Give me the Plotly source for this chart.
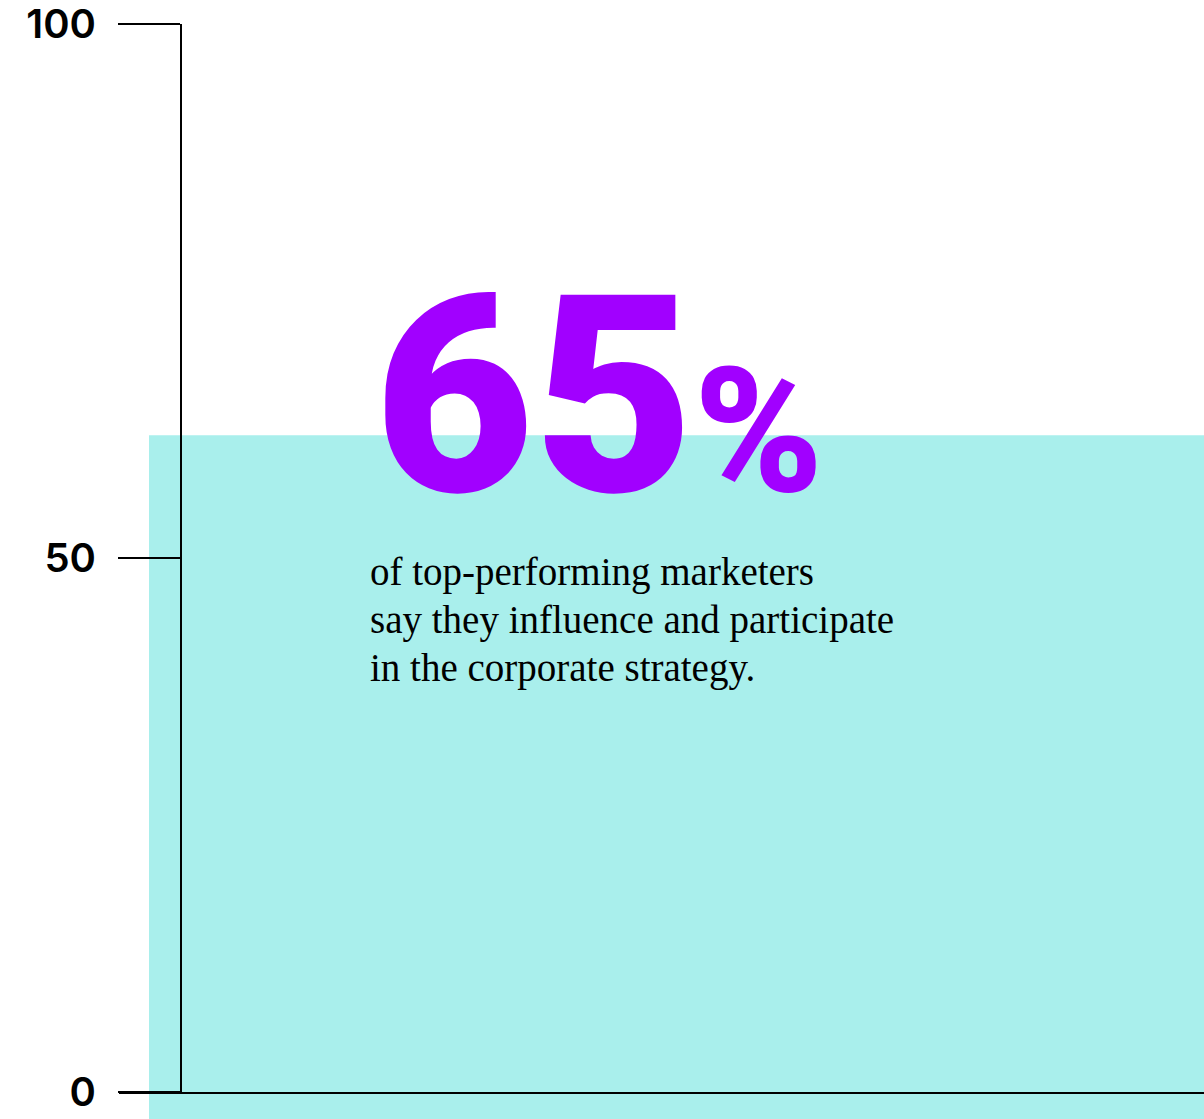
import plotly.graph_objects as go

# ---- data ----
categories = ["Top-performing marketers"]
bar_top = [61.5]          # bar height as drawn
bar_base = [-3]           # bar continues below the zero line
tick_vals = [0, 50, 100]
tick_text = ["0", "50", "100"]
headline_value = "65"
headline_unit = "%"
body_lines = ["of top-performing marketers",
              "say they influence and participate",
              "in the corporate strategy."]

W, H = 1204, 1119
PURPLE = "#a100ff"
CYAN = "#a9efec"

fig = go.Figure()

# bar on full-page subplot
fig.add_trace(go.Bar(
    x=categories, y=[t - b for t, b in zip(bar_top, bar_base)], base=bar_base,
    width=1, marker=dict(color=CYAN, line=dict(width=0)),
    xaxis="x", yaxis="y", hoverinfo="skip", showlegend=False))

# empty trace to host the axis subplot
fig.add_trace(go.Scatter(x=[], y=[], xaxis="x2", yaxis="y2", showlegend=False))

px_per_cat = 1111.0
x0 = -0.5 - 149 / px_per_cat
x1 = x0 + W / px_per_cat
y_lo = -(H - 1092) / 10.68
y_hi = 100 + 24 / 10.68

fig.update_layout(
    width=W, height=H,
    margin=dict(l=0, r=0, t=0, b=0, pad=0, autoexpand=False),
    paper_bgcolor="white", plot_bgcolor="rgba(0,0,0,0)",
    xaxis=dict(domain=[0, 1], range=[x0, x1], visible=False, fixedrange=True,
               automargin=False),
    yaxis=dict(domain=[0, 1], range=[y_lo, y_hi], visible=False, fixedrange=True,
               automargin=False),
    xaxis2=dict(domain=[119 / W, 1], range=[0, 1], anchor="y2", automargin=False,
                showline=True, linecolor="black", linewidth=2,
                showticklabels=False, ticks="", showgrid=False, zeroline=False),
    yaxis2=dict(domain=[27 / H, 1095 / H], range=[0, 100], anchor="free",
                automargin=False, ticklabeloverflow="allow",
                position=181 / W, showline=True, linecolor="black", linewidth=2,
                tickvals=tick_vals, ticktext=tick_text, ticks="outside",
                ticklen=62, tickwidth=2, tickcolor="black",
                ticklabelstandoff=14,
                tickfont=dict(family="Inter", size=40, color="black", weight=600),
                showgrid=False, zeroline=False),
    showlegend=False,
)

fig.add_annotation(
    xref="paper", yref="paper", x=372 / W, y=1 - 560 / H,
    xanchor="left", yanchor="bottom", showarrow=False,
    text=(f"<span style='font-size:276px'>{headline_value}</span>"
          f"<span style='font-size:174px'>{headline_unit}</span>"),
    font=dict(family="Roboto", color=PURPLE, weight=900, size=276))

for i, line in enumerate(body_lines):
    fig.add_annotation(
        xref="paper", yref="paper", x=368 / W, y=1 - (548 + 48 * i) / H,
        xanchor="left", yanchor="top", align="left", showarrow=False,
        text=line,
        font=dict(family="Liberation Serif", color="black", size=39))

fig.write_html("out.html")
